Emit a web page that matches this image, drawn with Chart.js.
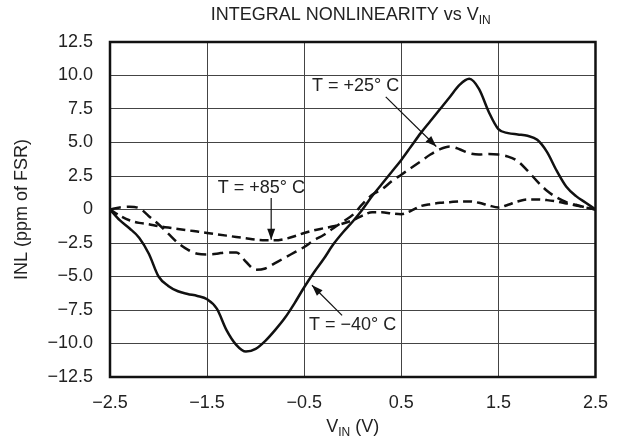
<!DOCTYPE html>
<html>
<head>
<meta charset="utf-8">
<script src="https://cdn.jsdelivr.net/npm/chart.js@4.4.0/dist/chart.umd.min.js"></script>
<style>
  html, body { margin: 0; padding: 0; background: #fff; }
  #wrap { width: 623px; height: 442px; }
</style>
</head>
<body>
<div id="wrap"><canvas id="inlChart" width="623" height="442"></canvas></div>
<script>
// input voltage (V)
const vin = [-2.5, -2.4, -2.3, -2.2, -2.1, -2.0, -1.9, -1.8, -1.7, -1.6, -1.5, -1.4, -1.3, -1.2, -1.1, -1.0,
    -0.9, -0.8, -0.7, -0.6, -0.5, -0.4, -0.3, -0.2, -0.1, 0, 0.1, 0.2, 0.3, 0.4, 0.5, 0.6, 0.7, 0.8, 0.9, 1.0,
    1.1, 1.2, 1.3, 1.4, 1.5, 1.6, 1.7, 1.8, 1.9, 2.0, 2.1, 2.2, 2.3, 2.4, 2.5];

// INL (ppm of FSR) at each temperature
const inlMinus40 = [0, -0.8, -1.4, -2.1, -3.3, -5.0, -5.7, -6.1, -6.3, -6.45, -6.7, -7.4, -9.0, -10.1, -10.6, -10.4,
    -9.8, -9.0, -8.1, -7.0, -5.8, -4.7, -3.7, -2.6, -1.7, -0.9, 0.0, 1.0, 1.9, 2.8, 3.7, 4.7, 5.7, 6.6, 7.5, 8.4,
    9.3, 9.75, 9.0, 7.3, 6.0, 5.7, 5.6, 5.5, 5.2, 4.3, 2.9, 1.7, 1.0, 0.5, 0];
const inlPlus25 = [0, 0.15, 0.2, 0.1, -0.5, -1.1, -1.8, -2.5, -3.0, -3.3, -3.35, -3.3, -3.2, -3.2, -3.9, -4.5,
    -4.4, -4.0, -3.6, -3.2, -2.8, -2.3, -1.9, -1.4, -0.9, -0.4, 0.4, 1.1, 1.5, 2.1, 2.6, 3.1, 3.6, 4.1, 4.5, 4.7,
    4.5, 4.2, 4.1, 4.15, 4.1, 3.95, 3.6, 2.9, 2.1, 1.4, 0.9, 0.55, 0.35, 0.15, 0];
const inlPlus85 = [0, -0.45, -0.8, -1.0, -1.1, -1.25, -1.35, -1.45, -1.55, -1.65, -1.75, -1.85, -1.95, -2.05, -2.15, -2.25,
    -2.3, -2.3, -2.2, -2.0, -1.75, -1.55, -1.4, -1.25, -1.05, -0.8, -0.45, -0.2, -0.2, -0.3, -0.35, -0.1, 0.25, 0.4, 0.5, 0.55,
    0.6, 0.6, 0.5, 0.3, 0.15, 0.35, 0.6, 0.75, 0.75, 0.7, 0.6, 0.45, 0.3, 0.15, 0];

const xTicks = [-2.5, -1.5, -0.5, 0.5, 1.5, 2.5];
const yTicks = [-12.5, -10, -7.5, -5, -2.5, 0, 2.5, 5, 7.5, 10, 12.5];

// curve labels: text, label anchor (V, ppm), arrow start and arrow tip
const curveLabels = [
    { text: "T = +25° C", at: [-0.42, 9.25], from: [0.34, 8.4], to: [0.86, 4.7] },
    { text: "T = +85° C", at: [-1.39, 1.6], from: [-0.84, 0.85], to: [-0.84, -2.25] },
    { text: "T = \u221240° C", at: [-0.45, -8.65], from: [-0.11, -7.9], to: [-0.42, -5.65] },
];

const FONT = "'Liberation Sans', Arial, sans-serif";
const BIG = "18px " + FONT;
const SUB = "12px " + FONT;

function fmt(v) {
    if (v === 0) return "0";
    let s = v.toFixed(1);
    return s.replace("-", "\u2212");
}

function pts(arr) {
    return vin.map((v, i) => ({ x: v, y: arr[i] }));
}

function arrowHead(ctx, x1, y1, x2, y2) {
    let a = Math.atan2(y2 - y1, x2 - x1);
    let len = 11, w = 4;
    ctx.beginPath();
    ctx.moveTo(x2, y2);
    ctx.lineTo(x2 - len * Math.cos(a) + w * Math.sin(a), y2 - len * Math.sin(a) - w * Math.cos(a));
    ctx.lineTo(x2 - len * Math.cos(a) - w * Math.sin(a), y2 - len * Math.sin(a) + w * Math.cos(a));
    ctx.closePath();
    ctx.fill();
}

// text with a subscript part, centred on cx
function subText(ctx, parts, cx, y) {
    let widths = parts.map((p) => {
        ctx.font = p.sub ? SUB : BIG;
        return ctx.measureText(p.t).width;
    });
    let x = cx - widths.reduce((a, b) => a + b, 0) / 2;
    ctx.textAlign = "left";
    parts.forEach((p, i) => {
        ctx.font = p.sub ? SUB : BIG;
        ctx.fillText(p.t, x, p.sub ? y + 6 : y);
        x += widths[i];
    });
}

// title, axis titles, frame and annotations
const decorations = {
    id: "decorations",
    afterDraw(chart) {
        const ctx = chart.ctx;
        const ca = chart.chartArea;
        const xs = chart.scales.x, ys = chart.scales.y;
        ctx.save();

        // frame
        ctx.strokeStyle = "#111";
        ctx.lineWidth = 2.5;
        ctx.strokeRect(ca.left, ca.top, ca.right - ca.left, ca.bottom - ca.top);

        ctx.fillStyle = "#222";
        ctx.textBaseline = "middle";
        let cx = (ca.left + ca.right) / 2;

        subText(ctx, [{ t: "INTEGRAL NONLINEARITY vs V" }, { t: "IN", sub: true }], cx - 2, 15);
        subText(ctx, [{ t: "V" }, { t: "IN", sub: true }, { t: " (V)" }], cx, 427);

        // y axis title
        ctx.save();
        ctx.font = BIG;
        ctx.translate(22, (ca.top + ca.bottom) / 2);
        ctx.rotate(-Math.PI / 2);
        ctx.textAlign = "center";
        ctx.fillText("INL (ppm of FSR)", 0, 0);
        ctx.restore();

        // curve labels with arrows
        ctx.textAlign = "left";
        ctx.strokeStyle = "#111";
        curveLabels.forEach((l) => {
            ctx.fillStyle = "#222";
            ctx.font = BIG;
            ctx.fillText(l.text, xs.getPixelForValue(l.at[0]), ys.getPixelForValue(l.at[1]));
            let x1 = xs.getPixelForValue(l.from[0]), y1 = ys.getPixelForValue(l.from[1]);
            let x2 = xs.getPixelForValue(l.to[0]), y2 = ys.getPixelForValue(l.to[1]);
            ctx.lineWidth = 1.2;
            ctx.beginPath();
            ctx.moveTo(x1, y1);
            ctx.lineTo(x2, y2);
            ctx.stroke();
            ctx.fillStyle = "#111";
            arrowHead(ctx, x1, y1, x2, y2);
        });
        ctx.restore();
    },
};

const ctx = document.getElementById("inlChart").getContext("2d");
new Chart(ctx, {
    type: "line",
    data: {
        datasets: [
            {
                label: "T = -40°C",
                data: pts(inlMinus40),
                borderColor: "#111",
                borderWidth: 2.5,
            },
            {
                label: "T = +25°C",
                data: pts(inlPlus25),
                borderColor: "#111",
                borderWidth: 2.5,
                borderDash: [11, 6],
            },
            {
                label: "T = +85°C",
                data: pts(inlPlus85),
                borderColor: "#111",
                borderWidth: 2.5,
                borderDash: [9, 5],
            },
        ],
    },
    options: {
        responsive: false,
        animation: false,
        devicePixelRatio: 1,
        layout: { padding: { top: 42, right: 17, left: 0, bottom: 0 } },
        elements: {
            point: { radius: 0 },
            line: { cubicInterpolationMode: "monotone", fill: false },
        },
        plugins: {
            legend: { display: false },
            title: { display: false },
            tooltip: { enabled: false },
        },
        scales: {
            x: {
                type: "linear",
                min: -2.5,
                max: 2.5,
                afterBuildTicks: (scale) => { scale.ticks = xTicks.map((v) => ({ value: v })); },
                afterFit: (scale) => { scale.height = 65; },
                ticks: {
                    callback: (v) => fmt(v),
                    font: { family: FONT, size: 18 },
                    color: "#222",
                    padding: 15,
                    maxRotation: 0,
                },
                grid: { color: "#444", lineWidth: 1, drawTicks: false },
                border: { display: false },
            },
            y: {
                type: "linear",
                min: -12.5,
                max: 12.5,
                afterBuildTicks: (scale) => { scale.ticks = yTicks.map((v) => ({ value: v })); },
                afterFit: (scale) => { scale.width = 110; },
                ticks: {
                    callback: (v) => fmt(v),
                    font: { family: FONT, size: 18 },
                    color: "#222",
                    padding: 17,
                },
                grid: { color: "#444", lineWidth: 1, drawTicks: false },
                border: { display: false },
            },
        },
    },
    plugins: [decorations],
});
</script>
</body>
</html>
